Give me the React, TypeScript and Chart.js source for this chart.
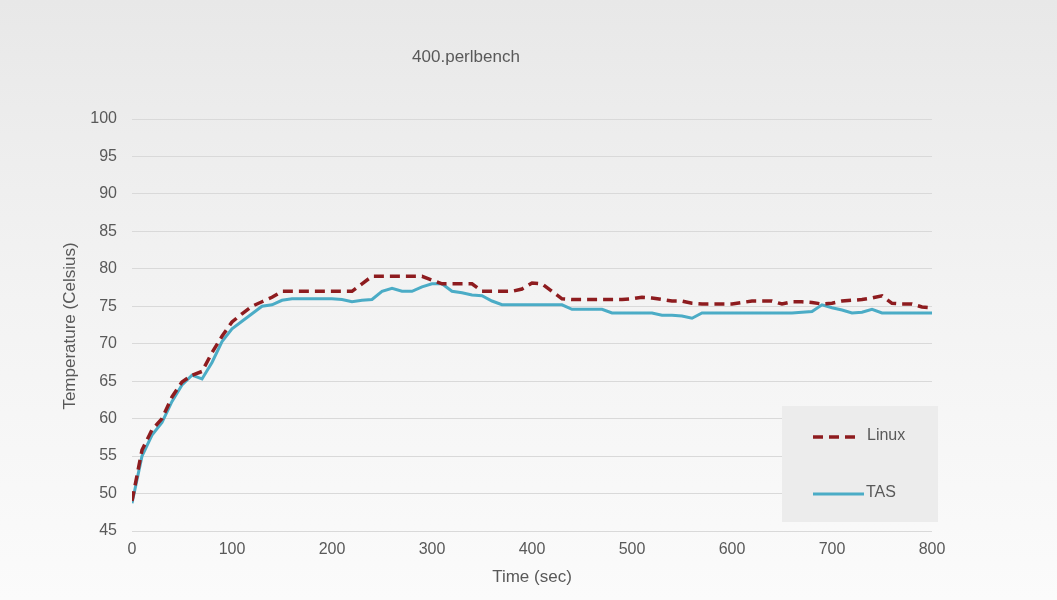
import React, { useEffect, useRef } from "react";
import { Chart, registerables } from "chart.js";

Chart.register(...registerables);

const chartTitle = "400.perlbench";
const xAxisTitle = "Time (sec)";
const yAxisTitle = "Temperature (Celsius)";
const seriesNames = ["Linux", "TAS"];

const times = [
  0, 10, 20, 30, 40, 50, 60, 70, 80, 90,
  100, 110, 120, 130, 140, 150, 160, 170, 180, 190,
  200, 210, 220, 230, 240, 250, 260, 270, 280, 290,
  300, 310, 320, 330, 340, 350, 360, 370, 380, 390,
  400, 410, 420, 430, 440, 450, 460, 470, 480, 490,
  500, 510, 520, 530, 540, 550, 560, 570, 580, 590,
  600, 610, 620, 630, 640, 650, 660, 670, 680, 690,
  700, 710, 720, 730, 740, 750, 760, 770, 780, 790,
  800,
];

const linuxTemps = [
  49, 55.8, 58.5, 60, 62.9, 64.9, 65.8, 66.3, 68.8, 71,
  72.9, 74, 75, 75.6, 76.2, 77, 77, 77, 77, 77,
  77, 77, 77, 78, 79, 79, 79, 79, 79, 79,
  78.5, 78, 78, 78, 78, 77, 77, 77, 77, 77.3,
  78.1, 78, 77, 76, 75.9, 75.9, 75.9, 75.9, 75.9, 75.9,
  76, 76.2, 76.1, 75.9, 75.7, 75.7, 75.4, 75.3, 75.3, 75.3,
  75.3, 75.5, 75.7, 75.7, 75.7, 75.3, 75.6, 75.6, 75.5, 75.3,
  75.4, 75.7, 75.8, 75.9, 76.1, 76.4, 75.4, 75.3, 75.3, 74.9,
  74.8,
];

const tasTemps = [
  48.7, 55, 57.8, 59.5, 62.3, 64.5, 65.8, 65.3, 67.5, 70.3,
  72, 73, 74, 75, 75.2, 75.8, 76, 76, 76, 76,
  76, 75.9, 75.6, 75.8, 75.9, 77, 77.4, 77, 77, 77.6,
  78, 78, 77, 76.8, 76.5, 76.4, 75.7, 75.2, 75.2, 75.2,
  75.2, 75.2, 75.2, 75.2, 74.6, 74.6, 74.6, 74.6, 74.1, 74.1,
  74.1, 74.1, 74.1, 73.8, 73.8, 73.7, 73.4, 74.1, 74.1, 74.1,
  74.1, 74.1, 74.1, 74.1, 74.1, 74.1, 74.1, 74.2, 74.3, 75.2,
  74.8, 74.5, 74.1, 74.2, 74.6, 74.1, 74.1, 74.1, 74.1, 74.1,
  74.1,
];

const FONT = "'Liberation Sans', Arial, sans-serif";
const TEXT_COLOR = "#595959";
const LINUX_COLOR = "#8E1C1F";
const TAS_COLOR = "#4BACC6";

const decorPlugin = {
  id: "decor",
  beforeDatasetsDraw(chart: any) {
    const ctx = chart.ctx;
    // legend box
    ctx.save();
    ctx.fillStyle = "#ececec";
    ctx.fillRect(782, 406, 156, 116);
    ctx.restore();
  },
  afterDraw(chart: any) {
    const ctx = chart.ctx;
    ctx.save();
    ctx.fillStyle = TEXT_COLOR;
    ctx.textAlign = "center";
    ctx.textBaseline = "middle";
    ctx.font = `17px ${FONT}`;
    ctx.fillText(chartTitle, 466, 57);
    ctx.fillText(xAxisTitle, 532, 577);
    ctx.save();
    ctx.translate(70, 326);
    ctx.rotate(-Math.PI / 2);
    ctx.fillText(yAxisTitle, 0, 0);
    ctx.restore();

    // legend entries
    ctx.lineCap = "butt";
    ctx.strokeStyle = LINUX_COLOR;
    ctx.lineWidth = 3.5;
    ctx.setLineDash([10, 6]);
    ctx.beginPath();
    ctx.moveTo(813, 437);
    ctx.lineTo(860, 437);
    ctx.stroke();
    ctx.setLineDash([]);
    ctx.strokeStyle = TAS_COLOR;
    ctx.lineWidth = 3;
    ctx.beginPath();
    ctx.moveTo(813, 494);
    ctx.lineTo(864, 494);
    ctx.stroke();
    ctx.textAlign = "left";
    ctx.font = `16px ${FONT}`;
    ctx.fillText(seriesNames[0], 867, 436);
    ctx.fillText(seriesNames[1], 866, 493);
    ctx.restore();
  },
};

export default function App() {
  const canvasRef = useRef<HTMLCanvasElement | null>(null);

  useEffect(() => {
    document.body.style.margin = "0";
    const canvas = canvasRef.current;
    if (!canvas) return;
    const chart = new Chart(canvas, {
      type: "line",
      data: {
        datasets: [
          {
            label: seriesNames[0],
            data: times.map((t, i) => ({ x: t, y: linuxTemps[i] })),
            borderColor: LINUX_COLOR,
            borderWidth: 3.5,
            borderDash: [10, 6],
            pointRadius: 0,
            tension: 0,
            fill: false,
          },
          {
            label: seriesNames[1],
            data: times.map((t, i) => ({ x: t, y: tasTemps[i] })),
            borderColor: TAS_COLOR,
            borderWidth: 3,
            pointRadius: 0,
            tension: 0,
            fill: false,
          },
        ],
      },
      options: {
        responsive: false,
        animation: false,
        layout: { padding: { left: 0, right: 125, top: 119, bottom: 0 } },
        plugins: {
          legend: { display: false },
          title: { display: false },
          tooltip: { enabled: false },
        },
        scales: {
          x: {
            type: "linear",
            min: 0,
            max: 800,
            afterFit: (s: any) => {
              s.height = 69;
            },
            ticks: {
              stepSize: 100,
              color: TEXT_COLOR,
              font: { family: FONT, size: 16 },
              padding: 9,
              maxRotation: 0,
            },
            grid: { display: false, drawTicks: false },
            border: { display: false },
          },
          y: {
            min: 45,
            max: 100,
            afterFit: (s: any) => {
              s.width = 132;
            },
            ticks: {
              stepSize: 5,
              color: TEXT_COLOR,
              font: { family: FONT, size: 16 },
              padding: 15,
            },
            grid: { color: "#d9d9d9", lineWidth: 1, drawTicks: false },
            border: { display: false },
          },
        },
      },
      plugins: [decorPlugin],
    });
    return () => chart.destroy();
  }, []);

  return (
    <div
      style={{
        width: 1057,
        height: 600,
        background: "linear-gradient(180deg, #e8e8e8 0%, #f3f3f3 50%, #fbfbfb 100%)",
      }}
    >
      <canvas ref={canvasRef} width={1057} height={600} style={{ display: "block" }} />
    </div>
  );
}
